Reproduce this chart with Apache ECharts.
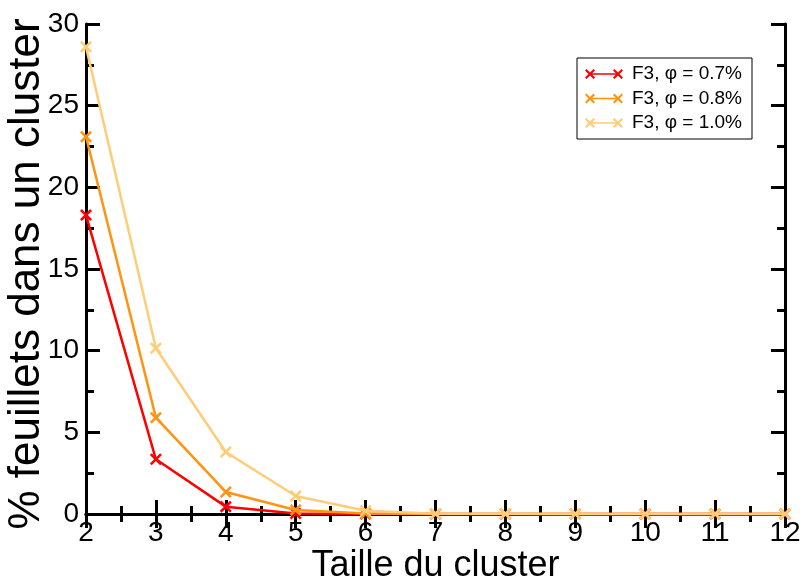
<!DOCTYPE html>
<html><head><meta charset="utf-8">
<script src="https://cdn.jsdelivr.net/npm/echarts@6/dist/echarts.min.js"></script>
<style>html,body{margin:0;padding:0;background:#fff}#c{width:805px;height:578px}</style>
</head><body><div id="c"></div>
<script>
const sizes = [2, 3, 4, 5, 6, 7, 8, 9, 10, 11, 12];
const seriesNames = ['F3, \u03c6 = 0.7%', 'F3, \u03c6 = 0.8%', 'F3, \u03c6 = 1.0%'];
const phi07 = [18.3, 3.35, 0.45, 0.03, 0, 0, 0, 0, 0, 0, 0];
const phi08 = [23.1, 5.9, 1.35, 0.25, 0.03, 0, 0, 0, 0, 0, 0];
const phi10 = [28.6, 10.15, 3.8, 1.1, 0.2, 0.02, 0.01, 0, 0, 0, 0];
const colors = ['#ff0000', '#ff9410', '#ffcc77'];

const xSym = 'path://M0,1.5 L1.5,0 L5,3.5 L8.5,0 L10,1.5 L6.5,5 L10,8.5 L8.5,10 L5,6.5 L1.5,10 L0,8.5 L3.5,5 Z';
const legIcon = 'path://M0,1.5 L1.5,0 L5,3.5 L8.5,0 L10,1.5 L6.5,5 L10,8.5 L8.5,10 L5,6.5 L1.5,10 L0,8.5 L3.5,5 Z ' +
  'M5,4.2 L33,4.2 L33,5.8 L5,5.8 Z ' +
  'M28,1.5 L29.5,0 L33,3.5 L36.5,0 L38,1.5 L34.5,5 L38,8.5 L36.5,10 L33,6.5 L29.5,10 L28,8.5 L31.5,5 Z';

function pairs(arr){ return sizes.map((s,i)=>[s, arr[i]]); }
const datasets = [phi07, phi08, phi10];

const axisLine = {show:true, lineStyle:{color:'#000', width:3}};
const tick = {show:true, inside:true, length:14, lineStyle:{color:'#000', width:3}};
const minor = {show:true, splitNumber:2, length:8, lineStyle:{color:'#000', width:3}};
const font = 'Liberation Sans, Arial, sans-serif';

const chart = echarts.init(document.getElementById('c'), null, {renderer:'canvas'});
chart.setOption({
  animation:false,
  backgroundColor:'#fff',
  grid:{left:86, right:20, top:24, bottom:64, show:false, containLabel:false, outerBoundsMode:'none'},
  legend:{
    left:577, top:58, orient:'vertical',
    data: seriesNames,
    icon: legIcon,
    itemWidth:38, itemHeight:11, itemGap:4.5,
    backgroundColor:'#fff', borderColor:'#000', borderWidth:1,
    padding:[6,10,6,8],
    textStyle:{fontFamily:font, fontSize:19, lineHeight:20, color:'#000', padding:[0,0,0,4]}
  },
  xAxis:[{
    type:'value', min:2, max:12, interval:1, position:'bottom',
    name:'Taille du cluster', nameLocation:'middle', nameGap:34, nameMoveOverlap:false,
    nameTextStyle:{fontFamily:font, fontSize:36, color:'#000'},
    axisLine, axisTick:tick, minorTick:minor,
    axisLabel:{fontFamily:font, fontSize:28, color:'#000', margin:5},
    splitLine:{show:false}
  },{
    type:'value', min:2, max:12, interval:1, position:'top',
    axisLine, axisTick:tick, minorTick:minor,
    axisLabel:{show:false}, splitLine:{show:false}
  }],
  yAxis:[{
    type:'value', min:0, max:30, interval:5, position:'left',
    name:'% feuillets dans un cluster', nameLocation:'middle', nameGap:37, nameRotate:90, nameMoveOverlap:false,
    nameTextStyle:{fontFamily:font, fontSize:44, color:'#000', padding:[0,10,0,0]},
    axisLine, axisTick:tick, minorTick:minor,
    axisLabel:{fontFamily:font, fontSize:28, color:'#000', margin:7},
    splitLine:{show:false}
  },{
    type:'value', min:0, max:30, interval:5, position:'right',
    axisLine, axisTick:tick, minorTick:minor,
    axisLabel:{show:false}, splitLine:{show:false}
  }],
  series: datasets.map((d,i)=>({
    name: seriesNames[i], type:'line', xAxisIndex:0, yAxisIndex:0,
    data: pairs(d), clip:false,
    symbol: xSym, symbolSize:12, showAllSymbol:true,
    lineStyle:{color:colors[i], width:2.5},
    itemStyle:{color:colors[i]},
    z: 2+i
  }))
});
</script></body></html>
